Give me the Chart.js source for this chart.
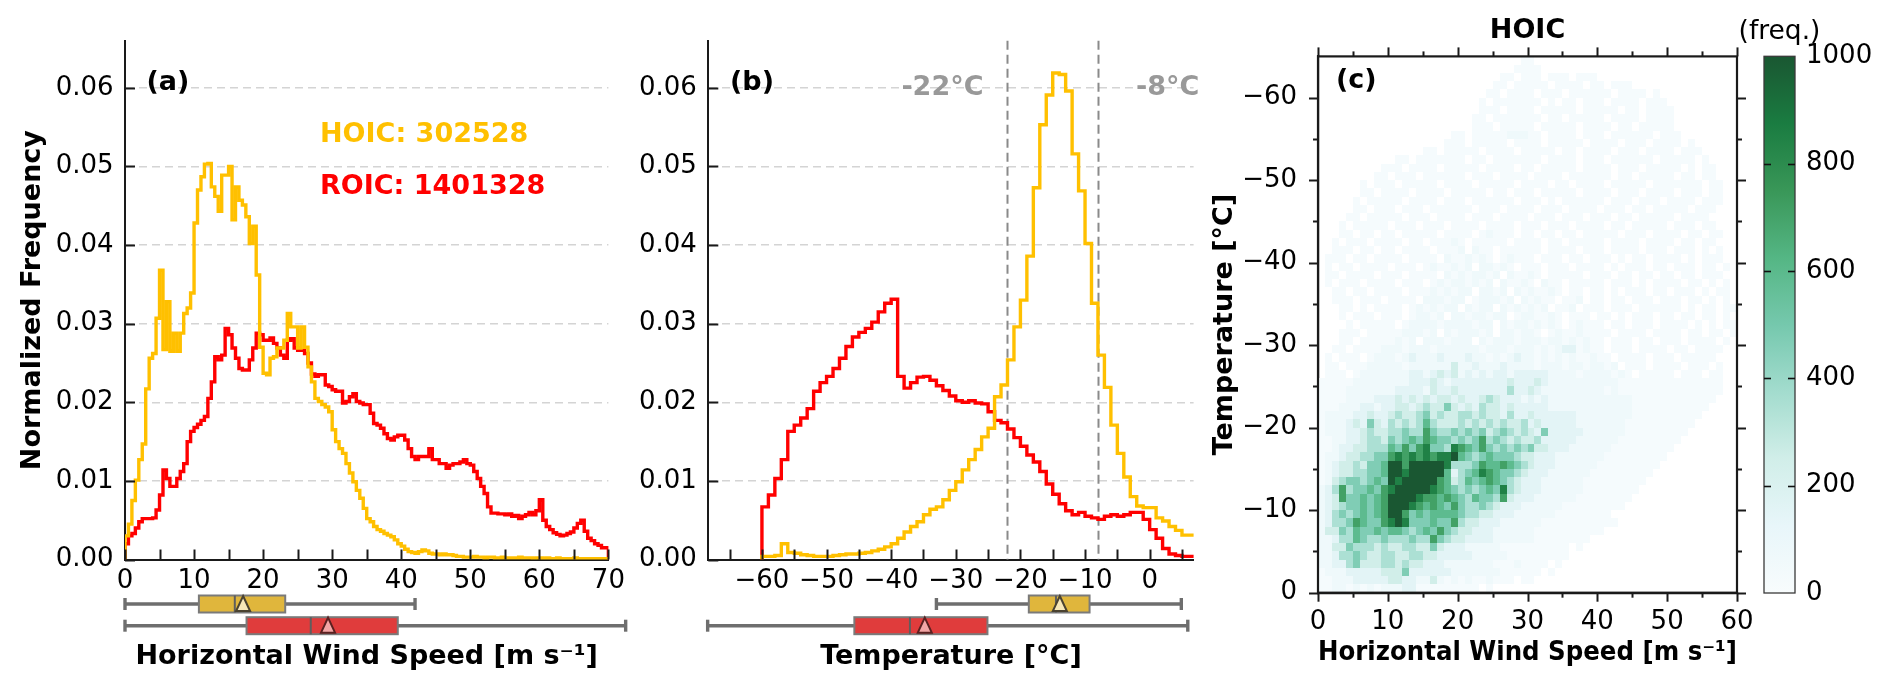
<!DOCTYPE html>
<html>
<head>
<meta charset="utf-8">
<title>HOIC / ROIC distributions</title>
<script src="https://cdn.jsdelivr.net/npm/chart.js@4.4.1/dist/chart.umd.min.js"></script>
<style>
  html, body { margin: 0; padding: 0; background: #fff; }
  #fig { position: relative; width: 1892px; height: 693px; overflow: hidden; background: #fff; }
  #fig canvas { position: absolute; top: 0; }
</style>
</head>
<body>
<div id="fig">
  <canvas id="panelA" width="660" height="693" style="left:0px"></canvas>
  <canvas id="panelB" width="600" height="693" style="left:620px"></canvas>
  <canvas id="panelC" width="580" height="693" style="left:1180px"></canvas>
  <canvas id="cbar" width="192" height="693" style="left:1700px"></canvas>
</div>
<script>
// ---------------- data ----------------

// (a) wind speed histograms, 0.5 m/s bins starting at 0
const windBinStart = 0;
const windBinWidth = 0.5;
const hoicWind = [
  0.0010, 0.0030, 0.0045, 0.0075, 0.0101, 0.0127, 0.0147, 0.0217, 0.0256, 0.0262,
  0.0307, 0.0368, 0.0267, 0.0328, 0.0265, 0.0288, 0.0265, 0.0288, 0.0313, 0.0320,
  0.0339, 0.0428, 0.0470, 0.0487, 0.0503, 0.0504, 0.0474, 0.0462, 0.0443, 0.0489,
  0.0489, 0.0500, 0.0432, 0.0474, 0.0457, 0.0451, 0.0436, 0.0402, 0.0424, 0.0362,
  0.0270, 0.0237, 0.0235, 0.0256, 0.0258, 0.0269, 0.0269, 0.0279, 0.0313, 0.0296,
  0.0296, 0.0269, 0.0296, 0.0270, 0.0245, 0.0226, 0.0205, 0.0201, 0.0197, 0.0194,
  0.0188, 0.0165, 0.0150, 0.0141, 0.0135, 0.0122, 0.0110, 0.0099, 0.0088, 0.0078,
  0.0065, 0.0052, 0.0048, 0.0042, 0.0038, 0.0036, 0.0033, 0.0031, 0.0029, 0.0025,
  0.0020, 0.0017, 0.0013, 0.0010, 0.0009, 0.0008, 0.0010, 0.0012, 0.0011, 0.0008,
  0.0007, 0.0007, 0.0006, 0.0007, 0.0006, 0.0006, 0.0005, 0.0004, 0.0004, 0.0003,
  0.0003, 0.0003, 0.0004, 0.0003, 0.0003, 0.0002, 0.0003, 0.0003, 0.0002, 0.0002,
  0.0003, 0.0002, 0.0002, 0.0002, 0.0002, 0.0003, 0.0002, 0.0002, 0.0002, 0.0001,
  0.0002, 0.0002, 0.0001, 0.0002, 0.0001, 0.0001, 0.0002, 0.0001, 0.0001, 0.0001,
  0.0001, 0.0002, 0.0001, 0.0001, 0.0001, 0.0001, 0.0001, 0.0001, 0.0001, 0.0001
];
const roicWind = [
  0.0010, 0.0020, 0.0030, 0.0033, 0.0040, 0.0048, 0.0052, 0.0052, 0.0052, 0.0053,
  0.0063, 0.0082, 0.0114, 0.0103, 0.0093, 0.0093, 0.0103, 0.0112, 0.0122, 0.0150,
  0.0163, 0.0168, 0.0172, 0.0177, 0.0182, 0.0205, 0.0226, 0.0258, 0.0254, 0.0260,
  0.0294, 0.0286, 0.0269, 0.0256, 0.0243, 0.0241, 0.0241, 0.0254, 0.0269, 0.0288,
  0.0286, 0.0279, 0.0279, 0.0282, 0.0275, 0.0269, 0.0260, 0.0256, 0.0279, 0.0281,
  0.0269, 0.0266, 0.0266, 0.0262, 0.0250, 0.0236, 0.0233, 0.0235, 0.0235, 0.0222,
  0.0220, 0.0216, 0.0214, 0.0214, 0.0199, 0.0201, 0.0207, 0.0211, 0.0201, 0.0199,
  0.0197, 0.0197, 0.0186, 0.0173, 0.0171, 0.0167, 0.0160, 0.0154, 0.0152, 0.0156,
  0.0158, 0.0158, 0.0152, 0.0141, 0.0131, 0.0127, 0.0131, 0.0131, 0.0131, 0.0141,
  0.0127, 0.0127, 0.0122, 0.0122, 0.0116, 0.0120, 0.0122, 0.0122, 0.0124, 0.0127,
  0.0122, 0.0120, 0.0112, 0.0103, 0.0093, 0.0084, 0.0067, 0.0059, 0.0059, 0.0058,
  0.0058, 0.0057, 0.0058, 0.0055, 0.0056, 0.0052, 0.0055, 0.0057, 0.0060, 0.0057,
  0.0062, 0.0076, 0.0050, 0.0042, 0.0038, 0.0034, 0.0032, 0.0030, 0.0031, 0.0033,
  0.0035, 0.0040, 0.0046, 0.0050, 0.0036, 0.0027, 0.0024, 0.0020, 0.0018, 0.0015
];

// (b) temperature histograms, 1 degC bins starting at -60
const tempBinStart = -60;
const tempBinWidth = 1;
const hoicTemp = [
  0.0003, 0.0004, 0.0004, 0.0005, 0.0020, 0.0009, 0.0008, 0.0006, 0.0005, 0.0004,
  0.0004, 0.0004, 0.0005, 0.0006, 0.0007, 0.0007, 0.0008, 0.0009, 0.0011, 0.0013,
  0.0016, 0.0020,
  0.0027, 0.0035, 0.0042, 0.0048, 0.0057, 0.0064, 0.0067, 0.0076, 0.0088, 0.0099,
  0.0114, 0.0127, 0.0140, 0.0156, 0.0167, 0.0207,
  0.0222, 0.0254, 0.0296, 0.0330, 0.0386, 0.0473, 0.0553, 0.0591, 0.0619, 0.0617,
  0.0596, 0.0516, 0.0469, 0.0402, 0.0326, 0.0260, 0.0219, 0.0171, 0.0135, 0.0105,
  0.0080, 0.0068, 0.0066, 0.0066, 0.0053, 0.0049, 0.0042, 0.0037, 0.0031
];
const roicTemp = [
  0.0057, 0.0067, 0.0082, 0.0103, 0.0127, 0.0163, 0.0171, 0.0180, 0.0192, 0.0214,
  0.0225, 0.0233, 0.0243, 0.0256, 0.0271, 0.0283, 0.0289, 0.0294, 0.0302, 0.0315,
  0.0326, 0.0331,
  0.0233, 0.0218, 0.0225, 0.0232, 0.0233, 0.0228, 0.0221, 0.0215, 0.0208, 0.0202,
  0.0200, 0.0202, 0.0199, 0.0198, 0.0188, 0.0177,
  0.0174, 0.0166, 0.0155, 0.0144, 0.0133, 0.0124, 0.0112, 0.0096, 0.0083, 0.0071,
  0.0062, 0.0057, 0.0060, 0.0055, 0.0053, 0.0051, 0.0055, 0.0057, 0.0055, 0.0057,
  0.0060, 0.0060, 0.0051, 0.0038, 0.0027, 0.0014, 0.0007, 0.0005, 0.0004
];
const tempThresholds = [-22, -8];

const hoicCount = 302528;
const roicCount = 1401328;

// box plots: [lower whisker, q1, median, q3, upper whisker, mean]
const hoicWindBox = [0, 10.7, 15.9, 23.2, 42.0, 17.1];
const roicWindBox = [0, 17.6, 26.9, 39.5, 72.5, 29.4];
const hoicTempBox = [-33.0, -18.7, -14.5, -9.3, 4.9, -13.9];
const roicTempBox = [-68.4, -45.7, -37.1, -25.1, 5.9, -34.8];

// tick values
const windTicks = [0, 10, 20, 30, 40, 50, 60, 70];
const windMinorTicks = [5, 15, 25, 35, 45, 55, 65];
const freqTicks = [0, 0.01, 0.02, 0.03, 0.04, 0.05, 0.06];
const tempTicks = [-60, -50, -40, -30, -20, -10, 0];
const tempMinorTicks = [-65, -55, -45, -35, -25, -15, -5, 5];
const heatWindTicks = [0, 10, 20, 30, 40, 50, 60];
const heatWindMinor = [5, 15, 25, 35, 45, 55];
const heatTempTicks = [-60, -50, -40, -30, -20, -10, 0];
const heatTempMinor = [-55, -45, -35, -25, -15, -5];
const cbarTicks = [0, 200, 400, 600, 800, 1000];

// (c) 2-D histogram of HOIC counts, 1 m/s x 1 degC cells.
// row k covers temperature -k-1 .. -k, character j covers wind j .. j+1 m/s
const heatLevelCodes = '0123456789A';
const heatLevelCounts = [0, 22, 65, 150, 250, 350, 470, 590, 710, 850, 1000];
const heatRows = [
  "1122121212 2233111111 111010",
  "1122233333 4433224212 1211211101 1",
  "1222333334 4463333332 2222221111 1101",
  "2233564445 5454433322 2222211121 11101",
  "2235565445 5445544333 3322222111 1111110",
  "2244655545 4455446433 3222221111 11111101",
  "2235576556 5556558654 4333322222 2111111110",
  "2446576676 7765676865 4433322222 2111111111 1",
  "2355687668 9A96667668 5443332222 2211111111 111",
  "2356567678 AA86767777 6554433322 2222111111 110",
  "2345667678 AAA9878768 6556543332 2222211111 1111",
  "2348667678 AAAA988787 6576658433 3222222111 11111",
  "2358566768 9AAAAA9876 5656769543 3322222211 111111",
  "1245665676 A9AAAAA874 5767876543 3322222211 1111111",
  "1234455667 AA9AAAAA73 5679876654 3332222221 11111111",
  "1234454667 AA8AAAAA95 5568778765 4333222222 111111111",
  "1223445566 898989899A 7656766654 4333222222 2111111111",
  "1123344555 7686896659 8768656565 6443332222 2211111111 1",
  "1122334554 6567687665 6568565454 4533333222 2221111111 11",
  "1222334544 5565586556 5656456545 4363333322 2222111111 111",
  "1222343643 5454575444 5454545445 3433333222 2222111111 1111",
  "1222233433 4544564544 5545443533 4333333222 2222211111 11111",
  "1112223323 3443454464 3435443433 3332222222 2222211111 111111",
  "1111222233 3434343443 4334543332 3232222222 2222211111 1111111",
  "1111222222 2333324334 3333333533 4322222222 2121111111 11111111",
  "1111122222 2223334323 3333333433 3432222222 2221111111 11111111",
  "0111012222 2223323434 2323233233 3332222122 2212101111 10111011",
  "0110111222 2212222224 2232223222 2122212212 2120111011 11011101",
  "0101110122 2123222322 2322121232 2121212112 1101111011 10111110",
  "0011011112 2212221222 2221222122 2121233121 1011101111 01101111",
  "0001101111 1212022212 2202122212 2212212121 1011101101 1101111010",
  "0001110111 1122212021 2221202212 2101211211 1101111011 1101101101",
  "0000101111 1012222122 2212202122 1212101211 1011011101 1110101011",
  "0001011101 1101221202 2122122012 2112101110 1101011101 1011011010",
  "0001101011 1101212122 0212202121 2120112011 1011101111 1101011011",
  "0011101110 1111022212 2012221202 1211011201 1011011101 1101101010",
  "0011011011 1101112121 2202212021 2112101101 1010111011 0111010110",
  "0101110111 1011101212 2121202112 1021101111 1011101011 1101101010",
  "0110111101 1101111021 2122120211 2101111101 1101101101 1011011100",
  "0101101111 0111012112 1202212101 1101110111 1010111011 0111011010",
  "0111011011 1101111021 1212101211 1011101101 1101011011 1101011100",
  "0011101101 1011110111 2021101111 1101111011 1011110111 0111010100",
  "0010111011 1101101112 1011111011 1101101111 1011110111 1011011000",
  "0001101101 1011111011 1101211101 1011011011 1110111011 1101101100",
  "0001011111 0111011101 1110111101 1101110111 1011011111 0111011000",
  "0000110111 1101110111 1011101111 0111011101 1101101111 1011110000",
  "0000011011 1011101111 1101110111 1011101111 0111011011 1110111000",
  "0000010111 1101111011 1011111101 1101011111 1011101110 1111011100",
  "0000001101 1110111101 1111011011 1011111011 1101110111 1011101100",
  "0000001011 1011111011 1101111101 1110110111 1011111011 1111101100",
  "0000000011 0111011111 1011101111 0111101111 1101101111 1011011000",
  "0000000001 1101111011 1110111101 1011111011 1101110111 1101011000",
  "0000000000 0110111111 1011011111 1101111011 1011111101 1111010000",
  "0000000000 0000011011 1110111101 1111011011 1101110111 1011100000",
  "0000000000 0000000011 1011111011 1101111101 1110111011 1101000000",
  "0000000000 0000000001 1011111222 1101111011 1011111101 1100000000",
  "0000000000 0000000000 0011101111 1011111011 1101101111 1000000000",
  "0000000000 0000000000 0011011111 1101101111 1011110111 1000000000",
  "0000000000 0000000000 0001110111 1011111011 1110110111 1000000000",
  "0000000000 0000000000 0001011111 1101011011 1011110111 0000000000",
  "0000000000 0000000000 0000110111 1011101111 1101111010 0000000000",
  "0000000000 0000000000 0000011011 1110111101 1011100000 0000000000",
  "0000000000 0000000000 0000001101 1101110111 0000000000 0000000000",
  "0000000000 0000000000 0000000011 1100000000 0000000000 0000000000",
  "0000000000 0000000000 0000000001 1000000000 0000000000 0000000000"
];
const heatCols = 60;

// ---------------- styling ----------------
const GOLD = '#FFC000';
const RED = '#FF0000';
const AXIS = '#1a1a1a';
const FAMILY = "'DejaVu Sans', sans-serif";
const FONT_TICK = { family: FAMILY, size: 26 };
const FONT_BOLD = { family: FAMILY, size: 27, weight: 'bold' };
const bugnStops = [[247,252,253],[229,245,249],[204,236,230],[153,216,201],[102,194,164],
                   [65,174,118],[35,139,69],[0,109,44],[0,68,27]];

Chart.defaults.font.family = FAMILY;
Chart.defaults.color = '#000';

function cmapColor(t) {
  t = Math.max(0, Math.min(1, t));
  const pos = t * (bugnStops.length - 1);
  const i = Math.min(Math.floor(pos), bugnStops.length - 2);
  const f = pos - i;
  const c = bugnStops[i].map((a, n) => a + (bugnStops[i + 1][n] - a) * f);
  return 'rgb(' + c.map(a => Math.round(a * 0.9 + 25.5)).join(',') + ')';
}

function minus(v) { return String(v).replace('-', '\u2212'); }

// outline of a step histogram: starts and ends on zero
function stepPoints(start, width, values) {
  const pts = [{ x: start, y: 0 }];
  values.forEach((v, i) => pts.push({ x: start + i * width, y: v }));
  const end = start + values.length * width;
  pts.push({ x: end, y: values[values.length - 1] });
  pts.push({ x: end, y: 0 });
  return pts;
}

function histDataset(start, width, values, color) {
  return {
    data: stepPoints(start, width, values),
    borderColor: color,
    borderWidth: 3.4,
    pointRadius: 0,
    stepped: 'after',
    fill: false
  };
}

// force axis box sizes so the plot areas line up with the figure
function fixBox(size) {
  return function (scale) {
    if (scale.isHorizontal()) scale.height = size; else scale.width = size;
    scale.paddingLeft = scale.paddingRight = scale.paddingTop = scale.paddingBottom = 0;
  };
}
function useTicks(values) {
  return function (scale) { scale.ticks = values.map(v => ({ value: v })); };
}

function strokeLine(ctx, x1, y1, x2, y2) {
  ctx.beginPath(); ctx.moveTo(x1, y1); ctx.lineTo(x2, y2); ctx.stroke();
}

// per-chart decorations: ticks, reference lines, labels, box plots, heatmap cells
function makeDecor(spec) {
  return {
    id: 'decor',
    beforeDatasetsDraw(chart) {
      const { ctx, chartArea: area } = chart;
      const xs = chart.scales.x, ys = chart.scales.y;

      if (spec.heat) {
        ctx.save();
        ctx.beginPath(); ctx.rect(area.left, area.top, area.width, area.height); ctx.clip();
        chart.data.datasets[0].data.forEach(p => {
          if (!p.v) return;
          const x0 = Math.round(xs.getPixelForValue(p.x - 0.5));
          const x1 = Math.round(xs.getPixelForValue(p.x + 0.5));
          const y0 = Math.round(ys.getPixelForValue(p.y - 0.5));
          const y1 = Math.round(ys.getPixelForValue(p.y + 0.5));
          ctx.fillStyle = cmapColor(p.v / 1000);
          ctx.fillRect(Math.min(x0, x1), Math.min(y0, y1), Math.abs(x1 - x0), Math.abs(y1 - y0));
        });
        ctx.restore();
      }

      if (spec.colorbar) {
        const g = ctx.createLinearGradient(0, ys.getPixelForValue(0), 0, ys.getPixelForValue(1000));
        for (let i = 0; i <= 16; i++) g.addColorStop(i / 16, cmapColor(i / 16));
        ctx.save();
        ctx.fillStyle = g;
        ctx.fillRect(area.left, area.top, area.width, area.height);
        ctx.strokeStyle = '#3a3a3a'; ctx.lineWidth = 1.3;
        ctx.strokeRect(area.left, area.top, area.width, area.height);
        ctx.strokeStyle = '#111'; ctx.lineWidth = 1.6;
        cbarTicks.slice(1, -1).forEach(v => {
          const py = Math.round(ys.getPixelForValue(v)) + 0.5;
          strokeLine(ctx, area.left, py, area.left + 7, py);
          strokeLine(ctx, area.right - 7, py, area.right, py);
        });
        ctx.restore();
      }

      (spec.vlines || []).forEach(l => {
        const px = Math.round(xs.getPixelForValue(l.value)) + 0.5;
        ctx.save();
        ctx.strokeStyle = '#8a8a8a'; ctx.lineWidth = 2; ctx.setLineDash([9, 5]);
        strokeLine(ctx, px, area.top, px, area.bottom);
        ctx.restore();
      });
    },

    afterDraw(chart) {
      const { ctx, chartArea: area } = chart;
      const xs = chart.scales.x, ys = chart.scales.y;

      if (spec.frame) {
        ctx.save();
        ctx.strokeStyle = AXIS; ctx.lineWidth = 2.2;
        ctx.strokeRect(area.left, area.top, area.width, area.height);
        ctx.restore();
      }

      // tick marks (inward for a/b, outward for c)
      ctx.save();
      ctx.strokeStyle = AXIS; ctx.lineWidth = 2;
      (spec.ticks || []).forEach(t => {
        const scale = t.axis === 'x' ? xs : ys;
        t.values.forEach(v => {
          const p = Math.round(scale.getPixelForValue(v)) + 0.5;
          const s = t.out ? 1 : -1;
          if (t.side === 'bottom') strokeLine(ctx, p, area.bottom, p, area.bottom + s * t.len);
          if (t.side === 'top') strokeLine(ctx, p, area.top, p, area.top - s * t.len);
          if (t.side === 'left') strokeLine(ctx, area.left, p, area.left - s * t.len, p);
          if (t.side === 'right') strokeLine(ctx, area.right, p, area.right + s * t.len, p);
        });
      });
      ctx.restore();

      // threshold labels
      (spec.vlines || []).forEach(l => {
        const px = xs.getPixelForValue(l.value);
        ctx.save();
        ctx.font = 'bold 27px ' + FAMILY;
        ctx.fillStyle = '#999999'; ctx.textAlign = l.align; ctx.textBaseline = 'middle';
        ctx.fillText(l.label, px + l.dx, area.top + l.dy);
        ctx.restore();
      });

      // box plots under the axis
      (spec.boxes || []).forEach(b => {
        const [lo, q1, med, q3, hi, mean] = b.stats;
        const X = v => xs.getPixelForValue(v);
        const yc = area.bottom + b.dy;
        ctx.save();
        ctx.strokeStyle = '#6e6e6e'; ctx.lineWidth = 3.4;
        strokeLine(ctx, X(lo), yc, X(q1), yc);
        strokeLine(ctx, X(q3), yc, X(hi), yc);
        strokeLine(ctx, X(lo), yc - 6, X(lo), yc + 6);
        strokeLine(ctx, X(hi), yc - 6, X(hi), yc + 6);
        ctx.fillStyle = b.fill;
        ctx.fillRect(X(q1), yc - 8.5, X(q3) - X(q1), 17);
        ctx.strokeStyle = '#7a7a7a'; ctx.lineWidth = 2;
        ctx.strokeRect(X(q1), yc - 8.5, X(q3) - X(q1), 17);
        ctx.strokeStyle = '#5e5e5e';
        strokeLine(ctx, X(med), yc - 8.5, X(med), yc + 8.5);
        const mx = X(mean);
        ctx.beginPath();
        ctx.moveTo(mx, yc - 8); ctx.lineTo(mx + 7, yc + 7); ctx.lineTo(mx - 7, yc + 7); ctx.closePath();
        ctx.fillStyle = b.meanFill; ctx.fill();
        ctx.strokeStyle = b.meanEdge; ctx.lineWidth = 2; ctx.stroke();
        ctx.restore();
      });

      (spec.texts || []).forEach(t => {
        ctx.save();
        ctx.font = (t.bold ? 'bold ' : '') + (t.size || 27) + 'px ' + FAMILY;
        ctx.fillStyle = t.color || '#000';
        ctx.textAlign = t.align || 'left';
        ctx.textBaseline = 'middle';
        ctx.fillText(t.text, area.left + t.dx, area.top + t.dy);
        ctx.restore();
      });
    }
  };
}

const baseOptions = {
  responsive: false,
  animation: false,
  devicePixelRatio: 1,
  events: []
};

function histScales(xMin, xMax, xTicks, xTitle, yAxisWidth, yTitle) {
  return {
    x: {
      type: 'linear', min: xMin, max: xMax,
      afterBuildTicks: useTicks(xTicks), afterFit: fixBox(133.5),
      grid: { display: false, drawTicks: false },
      border: { display: true, color: AXIS, width: 2 },
      ticks: { font: FONT_TICK, color: '#000', padding: 6.6, maxRotation: 0, autoSkip: false,
               callback: v => minus(v) },
      title: { display: true, text: xTitle, font: FONT_BOLD, color: '#000', padding: { top: 0, bottom: 20.1 } }
    },
    y: {
      type: 'linear', min: 0, max: 0.066,
      afterBuildTicks: useTicks(freqTicks), afterFit: fixBox(yAxisWidth),
      grid: { color: '#d4d4d4', lineWidth: 1.5, drawTicks: false },
      border: { display: true, color: AXIS, width: 2, dash: [8, 5] },
      ticks: { font: FONT_TICK, color: '#000', padding: 11.4, autoSkip: false, callback: v => v.toFixed(2) },
      title: { display: !!yTitle, text: yTitle || '', font: FONT_BOLD, color: '#000', padding: { top: 16.5, bottom: 0 } }
    }
  };
}

// ---------------- (a) wind speed ----------------
new Chart(document.getElementById('panelA'), {
  type: 'line',
  data: { datasets: [
    histDataset(windBinStart, windBinWidth, hoicWind, GOLD),
    histDataset(windBinStart, windBinWidth, roicWind, RED)
  ] },
  options: Object.assign({}, baseOptions, {
    layout: { padding: { left: 0, top: 40.7, right: 51.6, bottom: 0 } },
    plugins: { legend: { display: false }, tooltip: { enabled: false } },
    scales: histScales(0, 70, windTicks, 'Horizontal Wind Speed [m s\u207B\u00B9]', 125, 'Normalized Frequency')
  }),
  plugins: [makeDecor({
    ticks: [
      { axis: 'x', side: 'bottom', values: windTicks.concat(windMinorTicks), len: 10, out: false },
      { axis: 'y', side: 'left', values: freqTicks, len: 10, out: false }
    ],
    texts: [
      { text: '(a)', dx: 21.4, dy: 42.6, bold: true },
      { text: 'HOIC: ' + hoicCount, dx: 195, dy: 94.3, bold: true, color: GOLD },
      { text: 'ROIC: ' + roicCount, dx: 195, dy: 146, bold: true, color: RED }
    ],
    boxes: [
      { stats: hoicWindBox, dy: 44.5, fill: '#E0B63C', meanFill: '#F6E7B8', meanEdge: '#4a4230' },
      { stats: roicWindBox, dy: 66.2, fill: '#E03C3C', meanFill: '#F2A5A5', meanEdge: '#5a2020' }
    ]
  })]
});

// ---------------- (b) temperature ----------------
new Chart(document.getElementById('panelB'), {
  type: 'line',
  data: { datasets: [
    histDataset(tempBinStart, tempBinWidth, hoicTemp, GOLD),
    histDataset(tempBinStart, tempBinWidth, roicTemp, RED)
  ] },
  options: Object.assign({}, baseOptions, {
    layout: { padding: { left: 0, top: 40.7, right: 26.4, bottom: 0 } },
    plugins: { legend: { display: false }, tooltip: { enabled: false } },
    scales: histScales(-68.3, 6.8, tempTicks, 'Temperature [\u00B0C]', 88.3, null)
  }),
  plugins: [makeDecor({
    ticks: [
      { axis: 'x', side: 'bottom', values: tempTicks.concat(tempMinorTicks), len: 10, out: false },
      { axis: 'y', side: 'left', values: freqTicks, len: 10, out: false }
    ],
    vlines: [
      { value: tempThresholds[0], label: '-22\u00B0C', align: 'right', dx: -24, dy: 47.3 },
      { value: tempThresholds[1], label: '-8\u00B0C', align: 'left', dx: 38, dy: 46.8 }
    ],
    texts: [ { text: '(b)', dx: 21.7, dy: 42.3, bold: true } ],
    boxes: [
      { stats: hoicTempBox, dy: 44.5, fill: '#E0B63C', meanFill: '#F6E7B8', meanEdge: '#4a4230' },
      { stats: roicTempBox, dy: 66.2, fill: '#E03C3C', meanFill: '#F2A5A5', meanEdge: '#5a2020' }
    ]
  })]
});

// ---------------- (c) 2-D histogram ----------------
const heatPoints = [];
heatRows.forEach((row, k) => {
  const cells = row.replace(/ /g, '').padEnd(heatCols, '0').slice(0, heatCols);
  for (let j = 0; j < heatCols; j++) {
    heatPoints.push({ x: j + 0.5, y: -k - 0.5, v: heatLevelCounts[heatLevelCodes.indexOf(cells[j])] });
  }
});

new Chart(document.getElementById('panelC'), {
  type: 'scatter',
  data: { datasets: [{ data: heatPoints, pointRadius: 0, pointHoverRadius: 0, showLine: false }] },
  options: Object.assign({}, baseOptions, {
    layout: { padding: { left: 0, top: 0, right: 23, bottom: 0 } },
    plugins: {
      legend: { display: false }, tooltip: { enabled: false },
      title: { display: true, text: 'HOIC', font: FONT_BOLD, color: '#000', fullSize: false,
               padding: { top: 15, bottom: 9 } }
    },
    scales: {
      x: {
        type: 'linear', min: 0, max: 60,
        afterBuildTicks: useTicks(heatWindTicks), afterFit: fixBox(100.3),
        grid: { display: false, drawTicks: false },
        border: { display: true, color: AXIS, width: 2.2 },
        ticks: { font: FONT_TICK, color: '#000', padding: 14.4, maxRotation: 0, autoSkip: false },
        title: { display: true, text: 'Horizontal Wind Speed [m s\u207B\u00B9]', font: FONT_BOLD, color: '#000',
                 padding: { top: 0, bottom: 23.5 } }
      },
      y: {
        type: 'linear', min: -65, max: 0, reverse: true,
        afterBuildTicks: useTicks(heatTempTicks), afterFit: fixBox(138),
        grid: { display: false, drawTicks: false },
        border: { display: true, color: AXIS, width: 2.2 },
        ticks: { font: FONT_TICK, color: '#000', padding: 21, autoSkip: false, callback: v => minus(v) },
        title: { display: true, text: 'Temperature [\u00B0C]', font: FONT_BOLD, color: '#000',
                 padding: { top: 28.8, bottom: 0 } }
      }
    }
  }),
  plugins: [makeDecor({
    heat: true,
    frame: true,
    ticks: [
      { axis: 'x', side: 'bottom', values: heatWindTicks, len: 9, out: true },
      { axis: 'x', side: 'bottom', values: heatWindMinor, len: 5, out: true },
      { axis: 'x', side: 'top', values: heatWindTicks, len: 9, out: true },
      { axis: 'x', side: 'top', values: heatWindMinor, len: 5, out: true },
      { axis: 'y', side: 'left', values: heatTempTicks, len: 9, out: true },
      { axis: 'y', side: 'left', values: heatTempMinor, len: 5, out: true },
      { axis: 'y', side: 'right', values: heatTempTicks, len: 9, out: true },
      { axis: 'y', side: 'right', values: heatTempMinor, len: 5, out: true }
    ],
    texts: [ { text: '(c)', dx: 18, dy: 24.6, bold: true } ]
  })]
});

// ---------------- colour bar ----------------
new Chart(document.getElementById('cbar'), {
  type: 'scatter',
  data: { datasets: [] },
  options: Object.assign({}, baseOptions, {
    layout: { padding: { left: 64, top: 56.3, right: 0, bottom: 100 } },
    plugins: { legend: { display: false }, tooltip: { enabled: false } },
    scales: {
      x: { type: 'linear', display: false, min: 0, max: 1 },
      y: {
        type: 'linear', position: 'right', min: 0, max: 1000,
        afterBuildTicks: useTicks(cbarTicks), afterFit: fixBox(97),
        grid: { display: false, drawTicks: false },
        border: { display: false },
        ticks: { font: FONT_TICK, color: '#000', padding: 11, autoSkip: false, callback: v => String(v) }
      }
    }
  }),
  plugins: [makeDecor({
    colorbar: true,
    texts: [ { text: '(freq.)', dx: 15.5, dy: -24.3, align: 'center', size: 26.5 } ]
  })]
});
</script>
</body>
</html>
